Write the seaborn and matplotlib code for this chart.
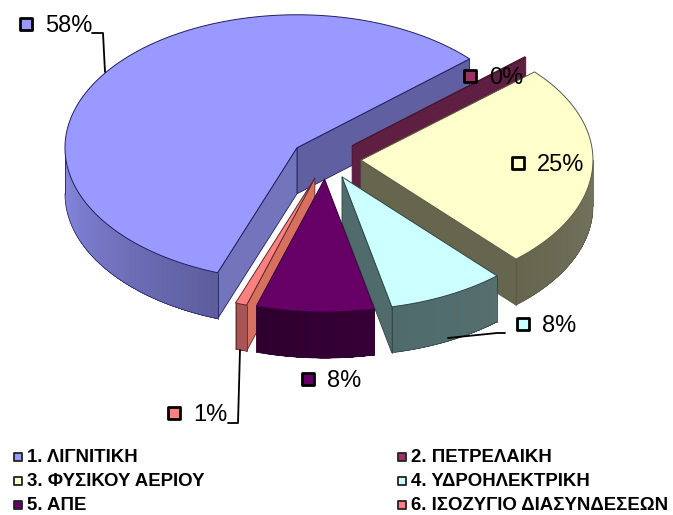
import numpy as np
import matplotlib
matplotlib.use("Agg")
import matplotlib.pyplot as plt
import seaborn as sns

# data
categories = ["1. ΛΙΓΝΙΤΙΚΗ", "2. ΠΕΤΡΕΛΑΙΚΗ", "3. ΦΥΣΙΚΟΥ ΑΕΡΙΟΥ",
              "4. ΥΔΡΟΗΛΕΚΤΡΙΚΗ", "5. ΑΠΕ", "6. ΙΣΟΖΥΓΙΟ ΔΙΑΣΥΝΔΕΣΕΩΝ"]
shares = [57.8, 0.1, 24.9, 8.2, 8.2, 0.8]
labels = ["58%", "0%", "25%", "8%", "8%", "1%"]

# colours per slice
top_colors = ["#9999FF", "#993366", "#FFFFCC", "#CCFFFF", "#660066", "#FF8080"]
edge_colors = ["#20205F", "#4A1530", "#5A5A48", "#2F4444", "#330033", "#5A2A2A"]
wall_start = ["#5F5FA2", "#5F1F42", "#66664F", "#4F6B6B", "#330033", "#AA5555"]
wall_end = ["#7474BC", "#5F1F42", "#66664F", "#4F6B6B", "#330033", "#D8705F"]
outer_left = ["#8A8AE4", "#5F1F42", "#66664F", "#4F6B6B", "#2E002E", "#AA5555"]
outer_right = ["#5C5C9C", "#5F1F42", "#757560", "#566F6F", "#360036", "#AA5555"]

# layout, in pixels of the 673x515 picture
cx, cy = 326, 159
rx, ry = 232, 133
depth = 46
explode = 0.151
start_angle = 250
draw_order = [0, 5, 1, 2, 3, 4]
label_keys = [(26, 24), (470, 76), (518, 163), (523, 324), (308, 379), (174, 413)]
legend_rows = [457, 481, 505]
legend_cols = [18, 402]

sns.set_style("white")
plt.rcParams["font.family"] = ["Liberation Sans", "DejaVu Sans"]

fig = plt.figure(figsize=(6.73, 5.15), dpi=100)
ax = fig.add_axes([0, 0, 1, 1])
ax.set_xlim(0, 673)
ax.set_ylim(515, 0)
ax.axis("off")

ends = start_angle - np.cumsum(shares) / np.sum(shares) * 360
starts = np.r_[start_angle, ends[:-1]]


def rim(x0, y0, t):
    t = np.radians(t)
    return x0 + rx * np.cos(t), y0 - ry * np.sin(t)


def mix(c1, c2, f):
    return tuple(np.array(matplotlib.colors.to_rgb(c1)) * (1 - f) + np.array(matplotlib.colors.to_rgb(c2)) * f)


def radial_wall(x0, y0, t, color, edge, z):
    x1, y1 = rim(x0, y0, t)
    ax.fill([x0, x1, x1, x0], [y0, y1, y1 + depth, y0 + depth], facecolor=color,
            edgecolor=edge, linewidth=0.6, zorder=z)


for z, i in enumerate(draw_order):
    z = z * 10 + 1
    t_lo, t_hi = ends[i], starts[i]
    mid = np.radians((t_lo + t_hi) / 2)
    x0 = cx + explode * rx * np.cos(mid)
    y0 = cy - explode * ry * np.sin(mid)

    # side walls facing the viewer
    if np.cos(np.radians(t_lo)) > 0:
        radial_wall(x0, y0, t_lo, wall_start[i], edge_colors[i], z)
    if np.cos(np.radians(t_hi)) < 0:
        radial_wall(x0, y0, t_hi, wall_end[i], edge_colors[i], z)

    # outer wall, only the front half of the rim shows
    lo = t_lo % 360
    hi = lo + (t_hi - t_lo)
    a = max(lo, 180)
    b = min(hi, 360)
    if b > a:
        # each band runs on to the far end and the next one paints over it, so no seams
        steps = np.linspace(a, b, 41)
        for s0 in steps[:-1]:
            col = mix(outer_left[i], outer_right[i], (s0 - a) / (b - a))
            sb = np.linspace(s0, b, 40)
            xs, ys = rim(x0, y0, sb)
            ax.fill(np.r_[xs, xs[::-1]], np.r_[ys, ys[::-1] + depth],
                    facecolor=col, edgecolor="none", zorder=z + 1)
        xs, ys = rim(x0, y0, np.linspace(a, b, 80))
        ax.plot(xs, ys + depth, color=edge_colors[i], lw=0.5, zorder=z + 2)
        for s in (a, b):
            xe, ye = rim(x0, y0, s)
            ax.plot([xe, xe], [ye, ye + depth], color=edge_colors[i], lw=0.6, zorder=z + 2)

    # top face
    xs, ys = rim(x0, y0, np.linspace(t_lo, t_hi, 120))
    ax.fill(np.r_[x0, xs], np.r_[y0, ys], facecolor=top_colors[i],
            edgecolor=edge_colors[i], linewidth=0.7, zorder=z + 3)

# leader lines
ax.plot([92, 103, 105], [33, 33, 72], color="black", lw=1.3, zorder=80)
ax.plot([448, 497, 505], [338, 333, 333], color="black", lw=1.3, zorder=80)
ax.plot([228, 238, 240], [423, 423, 350], color="black", lw=1.3, zorder=80)

# data labels with their keys
for i, (kx, ky) in enumerate(label_keys):
    ax.scatter([kx], [ky], marker="s", s=82, facecolor=top_colors[i], edgecolor="black",
               linewidth=2.0, zorder=90)
    ax.text(kx + 19, ky + 2, labels[i], fontsize=17, color="black", ha="left", va="center", zorder=91)

# legend, filled row by row
for i, name in enumerate(categories):
    lx = legend_cols[i % 2]
    ly = legend_rows[i // 2]
    ax.scatter([lx], [ly], marker="s", s=30, facecolor=top_colors[i], edgecolor="#222222",
               linewidth=1.3, zorder=90)
    ax.text(lx + 9, ly + 0.5, name, fontsize=13.45, fontweight="bold", color="black",
            ha="left", va="center", zorder=91)

fig.savefig("out.png", dpi=100)
